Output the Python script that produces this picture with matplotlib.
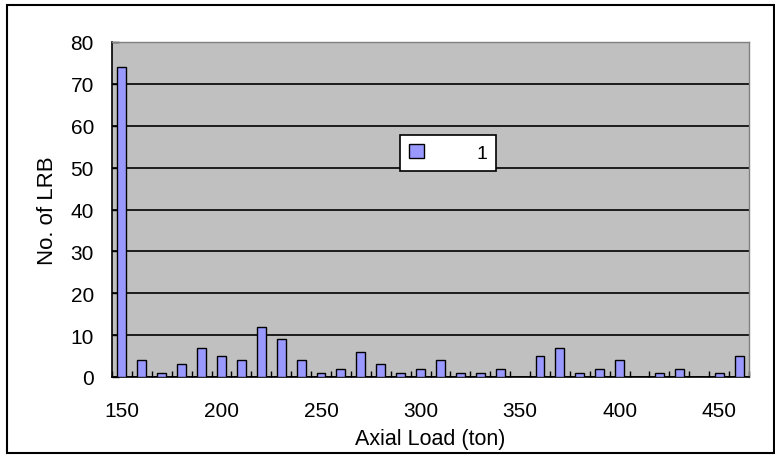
import numpy as np
import matplotlib
matplotlib.use('Agg')
import matplotlib.pyplot as plt
from matplotlib.patches import Rectangle, Patch

# axial load categories (ton) and number of LRB in each
loads = [150, 160, 170, 180, 190, 200, 210, 220, 230, 240, 250, 260, 270, 280, 290, 300,
         310, 320, 330, 340, 350, 360, 370, 380, 390, 400, 410, 420, 430, 440, 450, 460]
counts = [74, 4, 1, 3, 7, 5, 4, 12, 9, 4, 1, 2, 6, 3, 1, 2,
          4, 1, 1, 2, 0, 5, 7, 1, 2, 4, 0, 1, 2, 0, 1, 5]
label_loads = [150, 200, 250, 300, 350, 400, 450]
series_name = '1'

plt.rcParams['font.family'] = ['Liberation Sans', 'DejaVu Sans']

fig = plt.figure(figsize=(7.75, 4.56), dpi=100)
# outer chart border
fig.patches.append(Rectangle((7 / 775, 2 / 456), 767 / 775, 448 / 456, transform=fig.transFigure,
                             fill=False, edgecolor='black', linewidth=1.5))

ax = fig.add_axes([112 / 775, 78 / 456, 637 / 775, 335 / 456])
ax.set_facecolor('#C0C0C0')

x = np.arange(len(loads))
ax.bar(x, counts, width=0.45, color='#9999FF', edgecolor='black', linewidth=1.0, zorder=3)

ax.set_xlim(-0.5, len(loads) - 0.5)
ax.set_ylim(0, 80)
ax.set_yticks(np.arange(0, 81, 10))
ax.yaxis.grid(True, color='black', linewidth=1.2, zorder=1)
ax.set_axisbelow(True)

# category axis: tick marks between categories, labels under selected categories
ax.set_xticks(np.arange(-0.5, len(loads), 1.0))
ax.set_xticklabels([])
ax.set_xticks([loads.index(v) for v in label_loads], minor=True)
ax.set_xticklabels([str(v) for v in label_loads], minor=True)
ax.tick_params(axis='x', which='major', direction='in', length=4.5, width=1, color='black')
ax.tick_params(axis='x', which='minor', length=0, labelsize=15, pad=17)
ax.tick_params(axis='y', direction='in', length=5, width=1, labelsize=15, pad=13)

for s in ['left', 'bottom']:
    ax.spines[s].set_color('black')
    ax.spines[s].set_linewidth(1.2)
for s in ['top', 'right']:
    ax.spines[s].set_color('#808080')
    ax.spines[s].set_linewidth(1.0)

ax.set_xlabel('Axial Load (ton)', fontsize=15.5, labelpad=6)
ax.set_ylabel('No. of LRB', fontsize=16, labelpad=9)

leg = ax.legend(handles=[Patch(facecolor='#9999FF', edgecolor='black', label=series_name)],
                loc='upper left', bbox_to_anchor=(400 / 775, (456 - 136) / 456),
                bbox_transform=fig.transFigure,
                frameon=True, fancybox=False, fontsize=14, handlelength=0.77, handleheight=0.77,
                handletextpad=2.7, borderpad=0.45, borderaxespad=0)
leg.get_frame().set_edgecolor('black')
leg.get_frame().set_linewidth(1.2)
leg.get_frame().set_facecolor('white')
leg.get_frame().set_alpha(1)

fig.savefig('out.png', dpi=100)
